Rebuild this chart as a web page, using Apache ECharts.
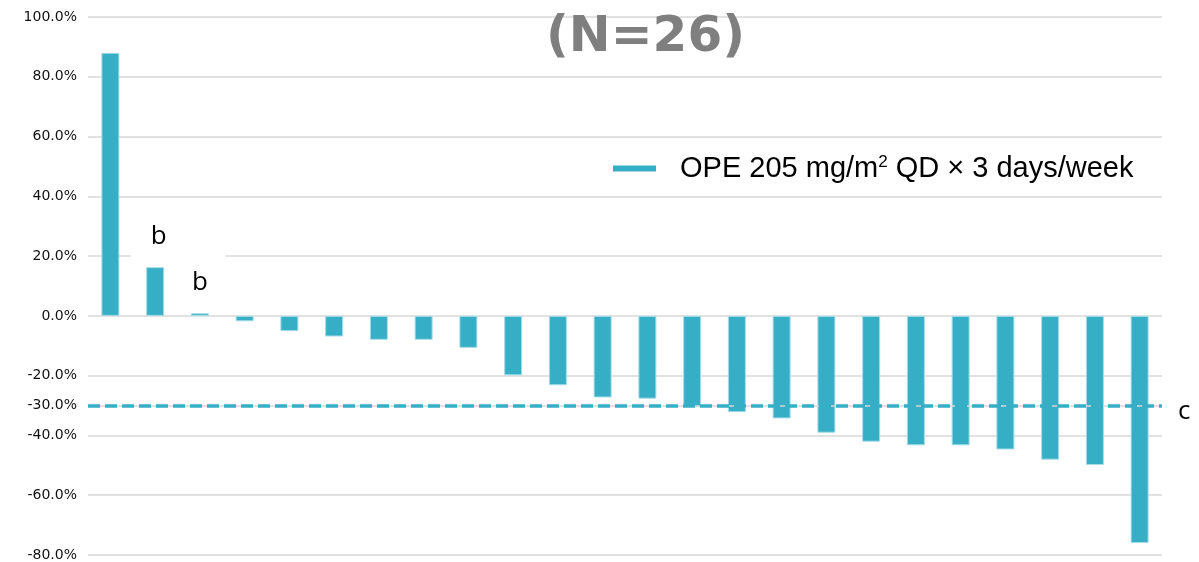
<!DOCTYPE html>
<html>
<head>
<meta charset="utf-8">
<title>Best percent change from baseline</title>
<script src="https://cdn.jsdelivr.net/npm/echarts@6/dist/echarts.min.js"></script>
<style>
  html, body { margin: 0; padding: 0; background: #fff; }
  #chart { width: 1199px; height: 562px; }
</style>
</head>
<body>
<div id="chart"></div>
<script>
// One bar per patient, sorted by best percent change from baseline
const patients = ['P01','P02','P03','P04','P05','P06','P07','P08','P09','P10','P11','P12',
                  'P13','P14','P15','P16','P17','P18','P19','P20','P21','P22','P23','P24'];
const bestChange = [88.0, 16.3, 0.9, -1.8, -5.1, -6.9, -8.0, -8.0, -10.7, -19.9, -23.2, -27.3,
                    -27.7, -30.4, -32.2, -34.3, -39.1, -42.1, -43.3, -43.3, -44.7, -48.1, -49.9, -76.0];
const footnotes = ['', 'b', 'b', '', '', '', '', '', '', '', '', '',
                   '', '', '', '', '', '', '', '', '', '', '', ''];
const responseThreshold = -30;
const seriesName = 'OPE 205 mg/m{sup|2} QD × 3 days/week';
const titleText = '(N=26)';

const teal = '#36AFC6';
const gridGray = '#d9d9d9';

const chart = echarts.init(document.getElementById('chart'));

const barData = bestChange.map((v, i) => {
  const item = { value: v };
  if (footnotes[i]) {
    const first = footnotes.indexOf(footnotes[i]) === i;
    item.label = {
      show: true,
      position: 'top',
      formatter: footnotes[i],
      fontFamily: 'Open Sans',
      fontSize: 26,
      color: '#000',
      distance: first ? 6 : 18,
      backgroundColor: first ? '#fff' : 'transparent',
      padding: first ? [2, 59, 12, 20] : 0,
      offset: first ? [23, 0] : [0, 0]
    };
  }
  return item;
});

const fmt = v => v.toFixed(1) + '%';

chart.setOption({
  animation: false,
  title: {
    text: titleText,
    left: 541,
    top: 8,
    textStyle: {
      fontFamily: 'DejaVu Sans',
      fontWeight: 'bold',
      fontSize: 50,
      color: '#7f7f7f'
    }
  },
  legend: {
    data: ['OPE'],
    left: 608,
    top: 149,
    icon: 'rect',
    itemWidth: 43,
    itemHeight: 6,
    itemStyle: { borderWidth: 0 },
    formatter: () => seriesName,
    textStyle: {
      fontFamily: 'Liberation Sans',
      fontSize: 29,
      color: '#000',
      padding: [0, 0, 0, 19],
      rich: {
        sup: { fontFamily: 'Liberation Sans', fontSize: 17, color: '#000', verticalAlign: 'top', padding: [0, 0, 12, 0] }
      }
    }
  },
  grid: { left: 88, right: 37, top: 17, bottom: 5, containLabel: false },
  xAxis: {
    type: 'category',
    data: patients,
    axisLine: { show: false },
    axisTick: { show: false },
    axisLabel: { show: false },
    splitLine: { show: false }
  },
  yAxis: [{
    type: 'value',
    min: -80,
    max: 100,
    interval: 20,
    axisLine: { show: false },
    axisTick: { show: false },
    axisLabel: {
      formatter: fmt,
      fontFamily: 'DejaVu Sans',
      fontSize: 14,
      color: '#111',
      margin: 11
    },
    splitLine: { lineStyle: { color: gridGray, width: 1.5 } }
  }, {
    type: 'value',
    min: -80,
    max: 100,
    interval: 10,
    position: 'left',
    axisLine: { show: false },
    axisTick: { show: false },
    axisLabel: {
      formatter: v => (v === responseThreshold ? fmt(v) : ''),
      fontFamily: 'DejaVu Sans',
      fontSize: 14,
      color: '#111',
      margin: 11
    },
    splitLine: { show: false }
  }],
  series: [{
    name: 'OPE',
    type: 'bar',
    data: barData,
    barWidth: 18,
    itemStyle: { color: teal, borderColor: '#a5dce8', borderWidth: 1 },
    markLine: {
      silent: true,
      symbol: 'none',
      data: [
        {
          yAxis: responseThreshold,
          lineStyle: { color: gridGray, width: 1.5, type: 'solid' },
          label: { show: false }
        },
        {
          yAxis: responseThreshold,
          lineStyle: { color: teal, width: 3.5, type: [12, 5] },
          label: {
            show: true,
            position: 'end',
            formatter: '{c|c}',
            distance: 16,
            rich: {
              c: { fontFamily: 'Open Sans', fontSize: 26, color: '#000', padding: [12, 0, 0, 0] }
            }
          }
        }
      ]
    }
  }]
});
</script>
</body>
</html>
